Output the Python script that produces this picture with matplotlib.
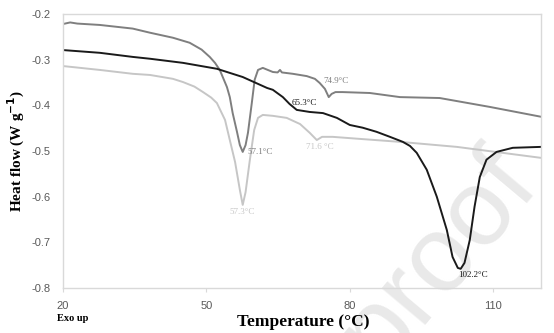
import matplotlib
matplotlib.use("Agg")
import matplotlib.pyplot as plt

# DSC curves (temperature in C, heat flow in W/g)
t_gray = [20.0, 21.5, 23.0, 27.7, 34.6, 38.2, 43.0, 46.5, 49.0, 50.7, 51.8, 52.8,
          54.3, 54.9, 55.5, 56.4, 57.0, 57.6, 58.2, 58.7, 59.5, 60.1, 60.8, 61.8,
          63.9, 64.9, 65.4, 65.8, 68.1, 71.0, 72.7, 73.7, 74.8, 75.6, 76.2, 77.0,
          78.5, 84.2, 90.5, 98.8, 109.3, 120.0]
hf_gray = [-0.222, -0.2185, -0.221, -0.224, -0.232, -0.241, -0.252, -0.263, -0.278,
           -0.294, -0.307, -0.3225, -0.360, -0.382, -0.417, -0.458, -0.487, -0.502,
           -0.487, -0.460, -0.395, -0.344, -0.3225, -0.318, -0.327, -0.328, -0.3225,
           -0.328, -0.331, -0.336, -0.342, -0.351, -0.364, -0.382, -0.375, -0.371,
           -0.371, -0.373, -0.382, -0.384, -0.4035, -0.425]

t_black = [20.0, 27.7, 34.6, 38.2, 45.1, 52.2, 57.6, 62.7, 63.9, 66.0, 67.4, 68.9,
           71.6, 74.4, 77.3, 80.0, 82.7, 85.6, 88.4, 91.1, 92.6, 94.0, 96.1, 98.2,
           100.3, 101.5, 102.6, 103.2, 104.0, 105.1, 106.1, 107.2, 108.6, 110.7,
           114.1, 120.0]
hf_black = [-0.279, -0.285, -0.294, -0.298, -0.307, -0.320, -0.338, -0.362, -0.366,
            -0.382, -0.397, -0.410, -0.4145, -0.417, -0.4275, -0.443, -0.449, -0.458,
            -0.469, -0.480, -0.489, -0.504, -0.541, -0.600, -0.673, -0.732, -0.756,
            -0.758, -0.745, -0.695, -0.622, -0.557, -0.519, -0.502, -0.493, -0.491]

t_light = [20.0, 27.7, 34.6, 38.2, 43.0, 45.1, 47.5, 49.3, 51.0, 52.2, 53.9, 54.9,
           56.0, 57.0, 57.6, 58.2, 59.1, 60.0, 60.8, 61.8, 63.9, 66.8, 69.6, 71.6,
           73.1, 74.2, 76.4, 82.1, 90.5, 102.4, 120.0]
hf_light = [-0.314, -0.3225, -0.331, -0.3335, -0.342, -0.349, -0.359, -0.371, -0.383,
            -0.395, -0.432, -0.476, -0.524, -0.585, -0.618, -0.590, -0.519, -0.454,
            -0.4275, -0.421, -0.423, -0.4275, -0.441, -0.460, -0.476, -0.469, -0.469,
            -0.4735, -0.480, -0.491, -0.515]

# peak annotations
peak_labels = ["57.1°C", "57.3°C", "74.9°C", "65.3°C", "71.6 °C", "102.2°C"]
peak_x = [58.5, 57.4, 77.1, 70.4, 73.8, 105.8]
peak_y = [-0.502, -0.634, -0.347, -0.395, -0.491, -0.771]
peak_ha = ["left", "center", "center", "center", "center", "center"]

x_ticks = [20, 50, 80, 110]
y_ticks = [-0.8, -0.7, -0.6, -0.5, -0.4, -0.3, -0.2]

c_gray = "#7f7f7f"
c_black = "#1a1a1a"
c_light = "#c6c6c6"
peak_colors = [c_gray, c_light, c_gray, c_black, c_light, c_black]

fig = plt.figure(figsize=(5.54, 3.33), dpi=100)
ax = fig.add_axes([0.1137, 0.1351, 0.8628, 0.8229])

# faint watermark behind everything (cut off by the figure edge, as in the source)
fig.text(0.79, 0.225, "proof", rotation=50, rotation_mode="anchor", fontsize=78,
         color="#e9e9e9", family="Liberation Sans", ha="center", va="center",
         zorder=-1)
ax.set_facecolor("none")

ax.plot(t_gray, hf_gray, color=c_gray, lw=1.4)
ax.plot(t_light, hf_light, color=c_light, lw=1.4)
ax.plot(t_black, hf_black, color=c_black, lw=1.4)

for lab, x, y, ha, col in zip(peak_labels, peak_x, peak_y, peak_ha, peak_colors):
    ax.text(x, y, lab, color=col, fontsize=6.5, family="Liberation Serif",
            ha=ha, va="center")

ax.set_xlim(20, 120)
ax.set_ylim(-0.8, -0.2)
ax.set_xticks(x_ticks)
ax.set_yticks(y_ticks)
ax.set_yticklabels([f"{v:.1f}" for v in y_ticks])
for lbl in ax.get_xticklabels() + ax.get_yticklabels():
    lbl.set_family("Liberation Sans")
    lbl.set_fontsize(8)
    lbl.set_color("#595959")
ax.tick_params(axis="x", length=3, color="#d9d9d9", pad=6)
ax.tick_params(axis="y", length=0, pad=9)
for sp in ax.spines.values():
    sp.set_color("#d9d9d9")
    sp.set_linewidth(1.0)

ax.set_ylabel("Heat flow (W g$^{\\mathbf{-1}}$)", fontsize=11, fontweight="bold",
              family="Liberation Serif")
ax.yaxis.set_label_coords(-0.075, 0.5)
fig.text(0.547, 0.033, "Temperature (°C)", fontsize=12.5, fontweight="bold",
         family="Liberation Serif", ha="center", va="center")
fig.text(0.103, 0.045, "Exo up", fontsize=7.5, fontweight="bold",
         family="Liberation Serif", ha="left", va="center")

fig.savefig("out.png", dpi=100)
